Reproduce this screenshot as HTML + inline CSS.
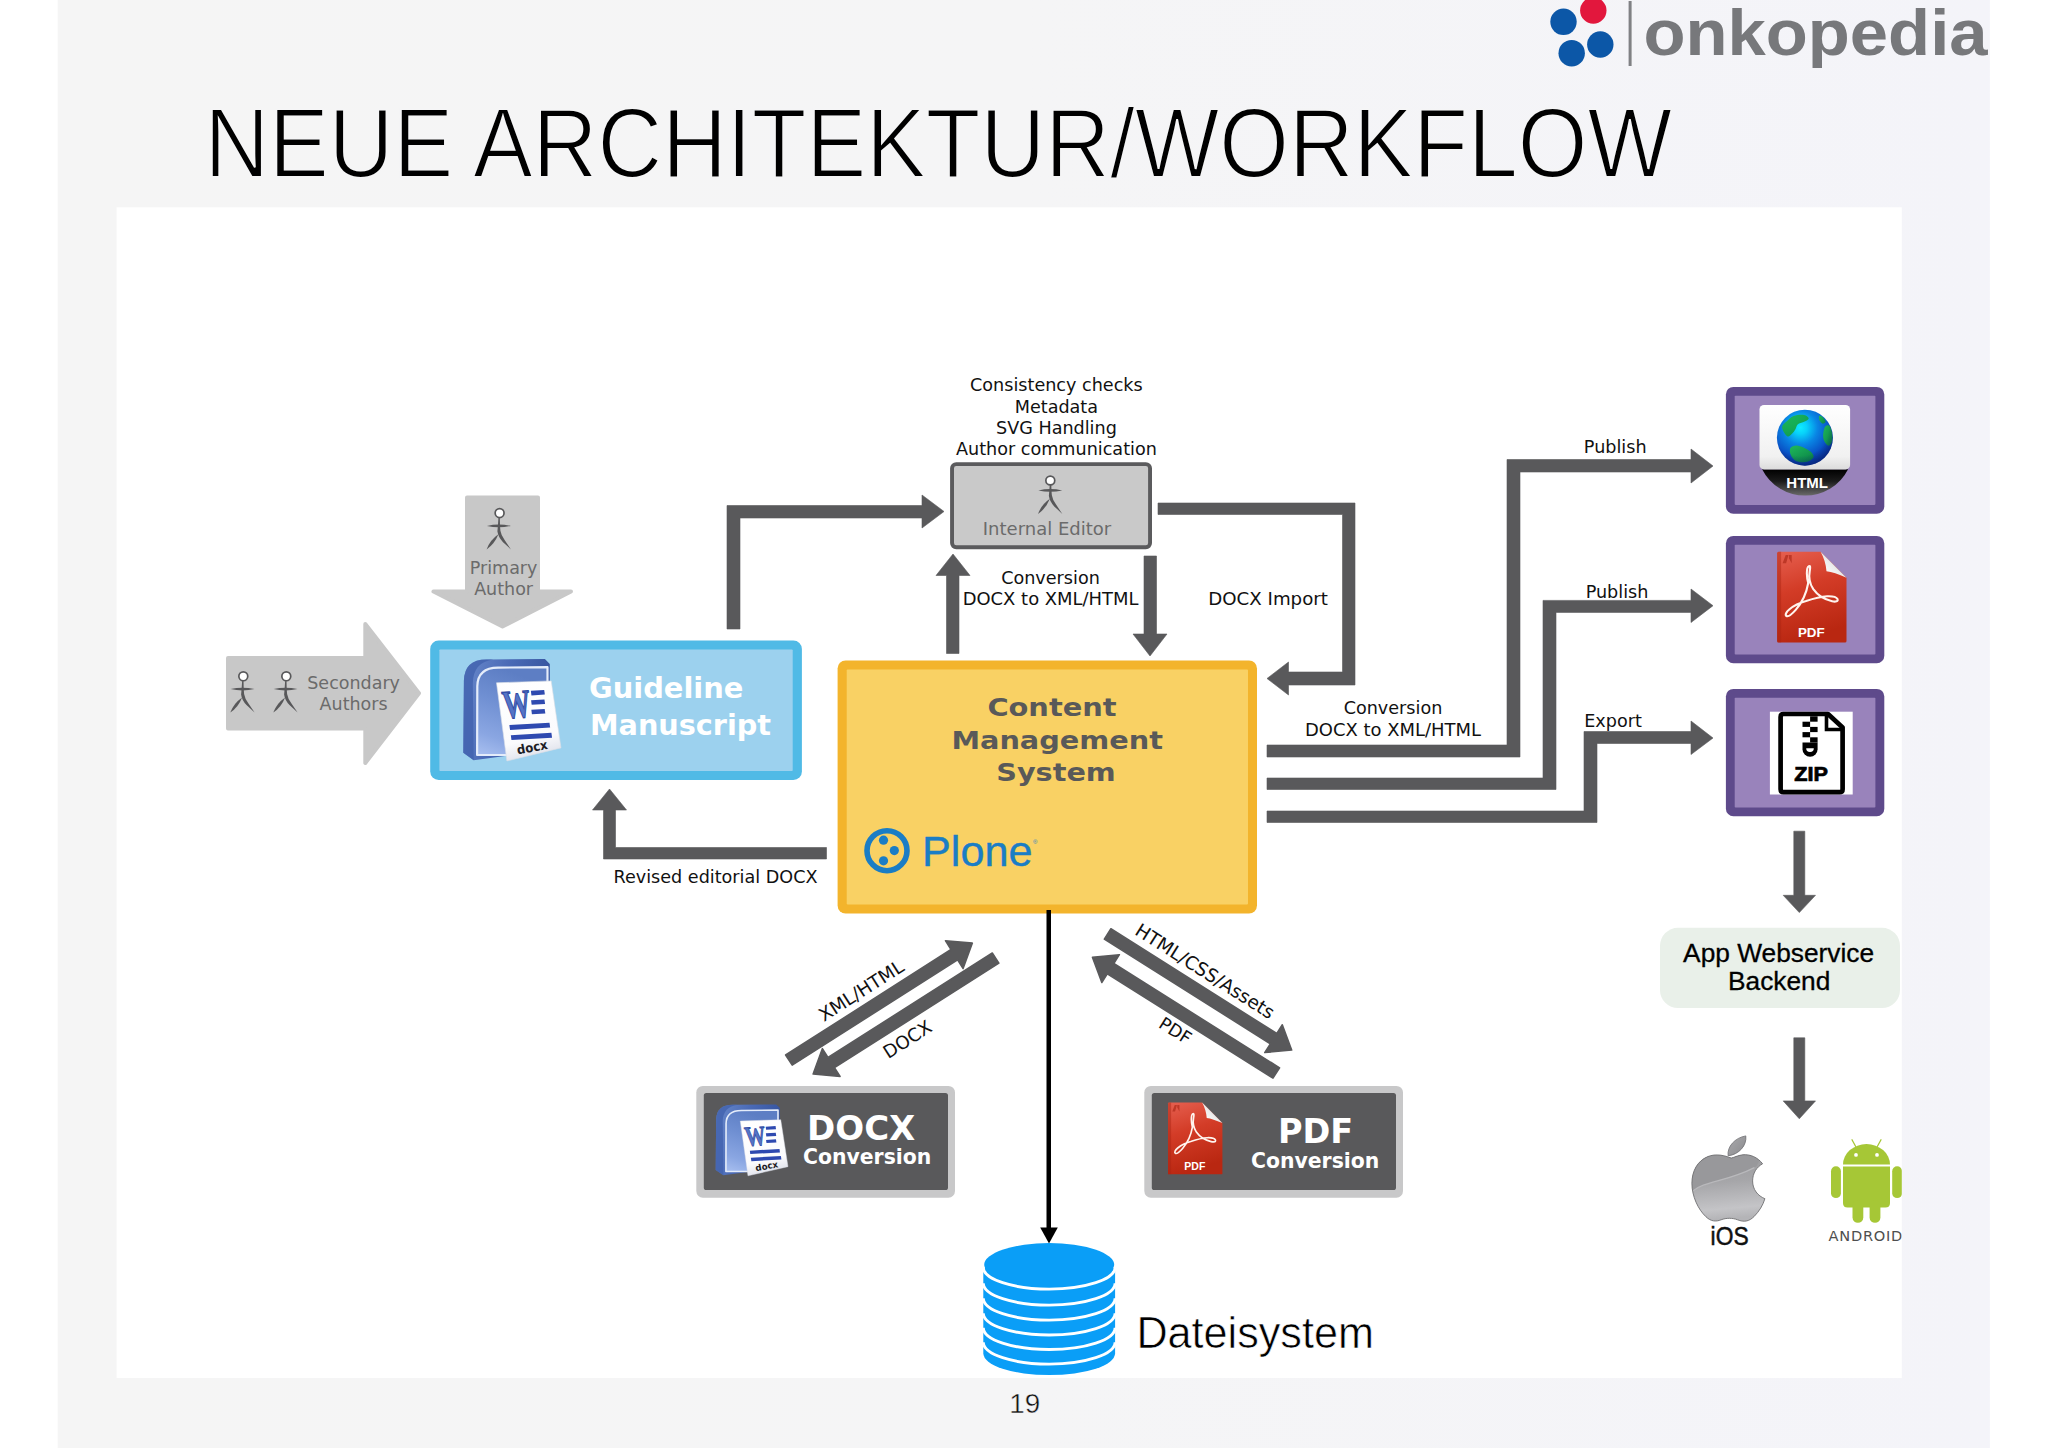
<!DOCTYPE html>
<html lang="de">
<head>
<meta charset="utf-8">
<title>Neue Architektur/Workflow</title>
<style>
html,body{margin:0;padding:0;background:#fff;}
body{width:2048px;height:1448px;overflow:hidden;position:relative;}
svg{position:absolute;left:0;top:0;display:block;}
.dv{font-family:"DejaVu Sans","Liberation Sans",sans-serif;}
.dvb{font-family:"DejaVu Sans","Liberation Sans",sans-serif;font-weight:bold;}
.ls{font-family:"Liberation Sans",sans-serif;}
</style>
</head>
<body>
<svg width="2048" height="1448" viewBox="0 0 2048 1448">
<defs>
<linearGradient id="gBlueBox" x1="0" y1="0" x2="0" y2="1"><stop offset="0" stop-color="#9ccfee"/><stop offset="1" stop-color="#9dd2ee"/></linearGradient>

<linearGradient id="gWordOuter" x1="0" y1="0" x2="1" y2="0.3"><stop offset="0" stop-color="#6a8acc"/><stop offset="0.5" stop-color="#4a6ab6"/><stop offset="1" stop-color="#35539e"/></linearGradient>
<linearGradient id="gWordFace" x1="0.3" y1="0" x2="0" y2="1"><stop offset="0" stop-color="#5d7ec4"/><stop offset="0.35" stop-color="#6f8fd2"/><stop offset="0.75" stop-color="#8aa6e2"/><stop offset="1" stop-color="#a9c0f0"/></linearGradient>
<linearGradient id="gPaper" x1="0" y1="0" x2="0.2" y2="1"><stop offset="0" stop-color="#ffffff"/><stop offset="0.8" stop-color="#fbfbfd"/><stop offset="1" stop-color="#e4e6ee"/></linearGradient>
<linearGradient id="gPdf" x1="0" y1="0" x2="0.25" y2="1"><stop offset="0" stop-color="#e66050"/><stop offset="0.45" stop-color="#d33c27"/><stop offset="1" stop-color="#b92711"/></linearGradient>
<linearGradient id="gFold" x1="0.1" y1="0.9" x2="0.7" y2="0.3"><stop offset="0" stop-color="#ffffff"/><stop offset="0.6" stop-color="#ececec"/><stop offset="1" stop-color="#b9b9bd"/></linearGradient>

<g id="wordicon">
<path d="M0 93.8 L0.6 21.5 Q1.2 0.4 23 0.4 L81.6 0 L86.5 4.9 L86.5 87.9 L43.6 96.7 L10.4 101.2 Z" fill="url(#gWordOuter)"/>
<path d="M0 93.8 L0.6 21.5 Q1.2 0.4 23 0.4 L30 0.4 Q10 3 9.5 24 L10.4 101.2 Z" fill="#4162ae" opacity="0.8"/>
<path d="M13.8 96 L14 27.3 Q14.4 8.6 34.8 8.6 L84.2 8.2 L84.2 87.9 L43.6 96 Z" fill="url(#gWordFace)" stroke="#e4ecfa" stroke-width="2.2" stroke-linejoin="round"/>
<path d="M33.2 23.8 L87.9 21.9 L97.7 88.9 L43.6 102 Z" fill="url(#gPaper)" stroke="#d9dde6" stroke-width="0.6"/>
<g transform="matrix(0.99 -0.06 0.13 0.99 0 0)">
<text x="33.5" y="62" font-family="'Liberation Serif',serif" font-weight="bold" font-size="40" fill="#5574c6" stroke="#2f4ba4" stroke-width="1.3" textLength="28" lengthAdjust="spacingAndGlyphs">W</text>
<rect x="63.5" y="36" width="13.5" height="4.6" fill="#2e49b0"/>
<rect x="62.5" y="45.5" width="13.5" height="4.6" fill="#2e49b0"/>
<rect x="61.5" y="55" width="13.5" height="4.6" fill="#2e49b0"/>
<rect x="37.5" y="69" width="40.5" height="5" fill="#2e49b0"/>
<rect x="37.6" y="79.2" width="41" height="5" fill="#2e49b0"/>
</g>
<text transform="translate(54.5 95.6) rotate(-11)" font-family="'DejaVu Sans','Liberation Sans',sans-serif" font-weight="bold" font-size="12.6" fill="#1c1c24" textLength="31" lengthAdjust="spacingAndGlyphs">docx</text>
</g>

<g id="pdficon">
<path d="M1.5 0 H43.5 L69.4 26.1 V89.3 Q69.4 90.8 67.9 90.8 H1.5 Q0 90.8 0 89.3 V1.5 Q0 0 1.5 0 Z" fill="url(#gPdf)"/>
<path d="M0 1.5 Q0 0 1.5 0 H4 V90.8 H1.5 Q0 90.8 0 89.3 Z" fill="#a82412" opacity="0.45"/>
<path d="M43.5 0 L69.4 26.1 Q57 20.5 49.4 19.6 Q48.6 9 43.5 0 Z" fill="url(#gFold)"/>
<path d="M5.5 11.6 L8.6 3.4 H11.4 L9 11.6 Z M11.8 3.4 H14.6 V11.6 L11.8 6.5 Z" fill="#b4301f" opacity="0.8"/>
<path d="M31.8 14.4 C28.6 16.2 29.8 26.5 31.1 31.3 C29.2 42.5 24.2 51.8 18.6 58.2 C15.4 61.8 11.2 65.4 9.4 64.3 C7.6 63.2 9.2 60.2 12.4 57.6 C17 53.8 23.4 51 29 49.4 C36.5 46.8 44 44.9 50 44.6 C54.5 44.4 59.2 45.2 60.4 47.4 C61.4 49.6 58.6 50.4 55 49.6 C47.5 47.8 40.2 43.2 36.2 37.5 C32.6 32 31.6 25 32.6 19.5 C33.2 16.2 33.4 13.6 31.8 14.4 Z" fill="none" stroke="#fff4ee" stroke-width="2.1" stroke-linejoin="round"/>
<text x="34.2" y="85.6" text-anchor="middle" font-family="'Liberation Sans',sans-serif" font-weight="bold" font-size="13.4" fill="#fff">PDF</text>
</g>

<linearGradient id="gDome" x1="0" y1="0" x2="0" y2="1"><stop offset="0" stop-color="#000"/><stop offset="0.45" stop-color="#1a1a1a"/><stop offset="1" stop-color="#6a6a6a"/></linearGradient>
<linearGradient id="gHtmlCard" x1="0" y1="0" x2="0" y2="1"><stop offset="0" stop-color="#ffffff"/><stop offset="0.8" stop-color="#f1f1f1"/><stop offset="1" stop-color="#dcdcdc"/></linearGradient>
<radialGradient id="gGlobe" cx="0.42" cy="0.32" r="0.72"><stop offset="0" stop-color="#10ecff"/><stop offset="0.16" stop-color="#08d2fa"/><stop offset="0.42" stop-color="#0a86e4"/><stop offset="0.72" stop-color="#0a52c6"/><stop offset="1" stop-color="#0a2c92"/></radialGradient>
<radialGradient id="gGlobeShade" cx="0.42" cy="0.32" r="0.72"><stop offset="0.7" stop-color="#06206e" stop-opacity="0"/><stop offset="1" stop-color="#041a60" stop-opacity="0.55"/></radialGradient>
<linearGradient id="gLand" x1="0" y1="0" x2="1" y2="1"><stop offset="0" stop-color="#22c24a"/><stop offset="1" stop-color="#0b8a34"/></linearGradient>
<clipPath id="clipGlobe"><circle cx="1804.9" cy="437.7" r="27.6"/></clipPath>
<clipPath id="clipPanel"><rect x="116.6" y="207.3" width="1785.2" height="1170.7"/></clipPath>
<linearGradient id="gApple" x1="0" y1="0" x2="0.1" y2="1"><stop offset="0" stop-color="#9a9a9d"/><stop offset="0.45" stop-color="#a6a6a9"/><stop offset="0.85" stop-color="#c4c4c7"/><stop offset="1" stop-color="#b4b4b7"/></linearGradient>
<linearGradient id="gLeaf" x1="0" y1="0" x2="1" y2="1"><stop offset="0" stop-color="#a9a9ac"/><stop offset="1" stop-color="#8b8b8e"/></linearGradient>
<linearGradient id="gBg" x1="0" y1="0" x2="1" y2="0"><stop offset="0" stop-color="#f5f5f5"/><stop offset="0.5" stop-color="#f5f5f6"/><stop offset="1" stop-color="#f4f4f9"/></linearGradient>
<g id="stickbody">
<path d="M-12.7 12.8 Q-0.8 10.1 11.2 12.8 Q-0.8 15.5 -12.7 12.8 Z"/>
<path d="M-0.9 1 L0.15 1 L0.4 12.8 L0.8 17.6 Q1.5 22 5 27 L11.3 36.3 L3.2 28.8 Q-1.4 24 -2.2 18.2 L-1.7 12.8 Z"/>
<path d="M-1.2 21.2 Q-4.9 30.8 -13 36.3 Q-9.7 27.1 -1.2 21.2 Z"/>
</g>
<g id="stickhead"><circle cx="0" cy="0" r="4.45" fill="#fff" stroke="#58585a" stroke-width="1.7"/></g>
<g id="stick"><use href="#stickbody"/><use href="#stickhead"/></g>
<g id="stick2"><use href="#stickbody" transform="translate(0.75 -2.9)"/><use href="#stickhead"/></g>
</defs>
<!-- BACKGROUND -->
<rect x="0" y="0" width="2048" height="1448" fill="#ffffff"/>
<rect x="57.7" y="0" width="1932.2" height="1448" fill="url(#gBg)"/>
<rect x="116.6" y="207.3" width="1785.2" height="1170.7" fill="#ffffff"/>

<!-- TITLE -->
<g id="title">
<text x="204.4" y="176.7" class="ls" font-size="99" fill="#000" textLength="1467.6" lengthAdjust="spacingAndGlyphs" stroke="#f5f5f6" stroke-width="2">NEUE ARCHITEKTUR/WORKFLOW</text>
</g>

<!-- LOGO -->
<g id="logo">
<circle cx="1593.3" cy="10.5" r="13.2" fill="#e2173d"/>
<circle cx="1563.5" cy="21.8" r="13.2" fill="#0c57a7"/>
<circle cx="1600.3" cy="44.5" r="13.2" fill="#0c57a7"/>
<circle cx="1571.7" cy="53.2" r="13.2" fill="#0c57a7"/>
<rect x="1628.6" y="1" width="3" height="65" fill="#808184"/>
<text x="1643.5" y="55" class="ls" font-weight="bold" font-size="64" fill="#77787b" textLength="344" lengthAdjust="spacingAndGlyphs">onkopedia</text>
</g>

<!-- PAGE NUMBER -->
<text x="1024.7" y="1412.5" class="ls" font-size="27.8" fill="#111" text-anchor="middle" stroke="#f5f5f6" stroke-width="0.45">19</text>

<!-- ARROWS DARK -->
<g id="arrows" fill="#59595b" stroke="#59595b" stroke-width="0.6" stroke-linejoin="round">
<!-- manuscript -> internal editor -->
<path d="M727 629 V505.5 H922 V495 L944 511.5 L922 528 V518 H740 V629 Z"/>
<!-- internal editor -> cms (docx import) -->
<path d="M1158 503 H1355 V685 H1288.5 V695 L1267 678.5 L1288.5 662 V672 H1342.5 V514.5 H1158 Z"/>
<!-- up arrow cms -> editor -->
<path d="M946.5 653.5 V575.5 H936 L953 554 L970 575.5 H959 V653.5 Z"/>
<!-- down arrow editor -> cms -->
<path d="M1144 556 H1156.5 V634 H1167 L1150 656 L1133 634 H1144 Z"/>
<!-- publish html -->
<path d="M1267 745 H1507 V459.5 H1691 V449 L1713 466 L1691 483 V472 H1520 V757 H1267 Z"/>
<!-- publish pdf -->
<path d="M1267 778 H1543 V600.4 H1691 V589 L1713 605.7 L1691 622.5 V612.4 H1556 V789.5 H1267 Z"/>
<!-- export zip -->
<path d="M1267 811 H1584 V731.5 H1691 V721 L1713 738 L1691 754.5 V743.5 H1597 V822.5 H1267 Z"/>
<!-- revised editorial docx -->
<path d="M826.5 847.5 H615.5 V810 H626.5 L609.5 789 L592.5 810 H603.5 V859 H826.5 Z"/>
<!-- right down arrows -->
<path d="M1793.8 831.2 H1804.8 V895.3 H1815.5 L1799.3 912.6 L1783.2 895.3 H1793.8 Z"/>
<path d="M1793.8 1037.8 H1804.8 V1100.9 H1815.5 L1799.3 1118.8 L1783.2 1100.9 H1793.8 Z"/>
</g>

<!-- BOXES -->
<g id="boxes">
<!-- guideline manuscript -->
<rect x="430.2" y="640.6" width="371.7" height="139.4" rx="8.5" fill="#50bae6"/>
<rect x="439.4" y="649.5" width="353.3" height="121.5" rx="0.8" fill="#9cd1ee"/>
<!-- CMS -->
<rect x="837.6" y="660.5" width="419.4" height="253" rx="8" fill="#f3b42c"/>
<rect x="846.7" y="669.6" width="401.3" height="234.8" rx="0.8" fill="#f9d164"/>
<!-- internal editor -->
<rect x="952.05" y="464.15" width="198" height="83.1" rx="4.2" fill="#c9c9c9" stroke="#5b5b5d" stroke-width="3.9"/>
<!-- purple -->
<rect x="1725.9" y="386.9" width="158.4" height="126.9" rx="7.5" fill="#5e4a8b"/>
<rect x="1734.7" y="395.7" width="140.7" height="109.2" rx="0.8" fill="#9983bb"/>
<rect x="1725.9" y="535.9" width="158.4" height="127.4" rx="7.5" fill="#5e4a8b"/>
<rect x="1734.7" y="544.7" width="140.7" height="109.8" rx="0.8" fill="#9983bb"/>
<rect x="1725.9" y="688.9" width="158.4" height="127.4" rx="7.5" fill="#5e4a8b"/>
<rect x="1734.7" y="697.7" width="140.7" height="109.8" rx="0.8" fill="#9983bb"/>
<!-- app webservice -->
<rect x="1660" y="927.8" width="240" height="80.3" rx="18" fill="#e9f0e9"/>
<!-- docx / pdf conversion -->
<rect x="696.3" y="1085.9" width="258.7" height="111.8" rx="6.6" fill="#c8c8c9"/>
<rect x="703.8" y="1092.9" width="244.2" height="97.2" rx="2.6" fill="#59595b"/>
<rect x="1144.3" y="1085.9" width="258.7" height="111.8" rx="6.6" fill="#c8c8c9"/>
<rect x="1151.8" y="1092.9" width="244.2" height="97.2" rx="2.6" fill="#59595b"/>
</g>

<!-- THIN ARROW -->
<rect x="1046.5" y="910" width="4.5" height="320" fill="#000"/>
<path d="M1040.2 1227.6 H1057.8 L1049 1243.5 Z" fill="#000"/>


<!-- GREY ARROW SHAPES -->
<g id="greyarrows" fill="#c8c8c8" stroke="#c8c8c8" stroke-width="4" stroke-linejoin="round">
<path d="M228 658 H365.3 V624 L419 693.3 L365.3 763 V728.5 H228 Z"/>
<path d="M467 497.5 H538 V591.5 H571 L502.5 626.5 L433.5 591.5 H467 Z"/>
</g>

<!-- STICK FIGURES -->
<g id="figs" fill="#58585a">
<use href="#stick" transform="translate(243.3 676.3)"/>
<use href="#stick" transform="translate(286.3 676.3)"/>
<use href="#stick" transform="translate(499.6 513.1)"/>
<use href="#stick2" transform="translate(1050.3 480.5)"/>
</g>

<!-- LABELS -->
<g id="labels" class="dv" font-size="17.6" fill="#111" text-anchor="middle">
<text x="1056.4" y="391">Consistency checks</text>
<text x="1056.4" y="412.5">Metadata</text>
<text x="1056.4" y="434">SVG Handling</text>
<text x="1056.4" y="455.3">Author communication</text>
<text x="1050.5" y="584">Conversion</text>
<text x="1050.6" y="605.4" font-size="17.95">DOCX to XML/HTML</text>
<text x="1268.1" y="605.4" font-size="18.2">DOCX Import</text>
<text x="1393" y="714.4">Conversion</text>
<text x="1393" y="735.5" font-size="17.95">DOCX to XML/HTML</text>
<text x="1615.2" y="452.5">Publish</text>
<text x="1617" y="597.5">Publish</text>
<text x="1613" y="726.8">Export</text>
<text x="715.5" y="883">Revised editorial DOCX</text>
<text transform="translate(864.7,996) rotate(-32.5)" x="0" y="0" font-size="18.5">XML/HTML</text>
<text transform="translate(910.7,1044.8) rotate(-32.5)" x="0" y="0" font-size="18.2">DOCX</text>
<text transform="translate(1201.5,976.7) rotate(32.3)" x="0" y="0" font-size="18.5">HTML/CSS/Assets</text>
<text transform="translate(1172,1036) rotate(32.3)" x="0" y="0">PDF</text>
</g>
<g id="greylabels" class="dv" font-size="17.5" fill="#6b6b6b" text-anchor="middle">
<text x="353.6" y="689.3">Secondary</text>
<text x="353.6" y="710.4">Authors</text>
<text x="503.6" y="573.7">Primary</text>
<text x="503.6" y="595">Author</text>
<text x="1047" y="534.5" font-size="18">Internal Editor</text>
</g>

<!-- BOLD LABELS -->
<g id="bold" class="dvb" fill="#fff">
<text x="589" y="698.4" font-size="28.9">Guideline</text>
<text x="590" y="734.5" font-size="28.7">Manuscript</text>
<text x="807" y="1139.6" font-size="34">DOCX</text>
<text x="803" y="1164.4" font-size="20.4">Conversion</text>
<text x="1278" y="1143" font-size="33.5">PDF</text>
<text x="1251" y="1167.7" font-size="20.4">Conversion</text>
</g>
<g id="cms" class="dvb" fill="#595959" font-size="25.2" text-anchor="middle">
<text x="1052" y="716.1" textLength="129.2" lengthAdjust="spacingAndGlyphs">Content</text>
<text x="1057.2" y="748.5" textLength="211.6" lengthAdjust="spacingAndGlyphs">Management</text>
<text x="1056" y="780.7" textLength="119.5" lengthAdjust="spacingAndGlyphs">System</text>
</g>

<!-- APP WEBSERVICE TEXT -->
<g class="ls" font-size="26.3" fill="#000" text-anchor="middle" stroke="#000" stroke-width="0.3">
<text x="1778.6" y="962.3">App Webservice</text>
<text x="1779.2" y="989.6">Backend</text>
</g>

<!-- DATEISYSTEM -->
<text x="1136.4" y="1347.8" class="ls" font-size="43.6" fill="#000" textLength="237.5" lengthAdjust="spacingAndGlyphs" stroke="#fff" stroke-width="0.6">Dateisystem</text>

<!-- DATABASE -->
<g id="db">
<path d="M983.3 1268 V1353.3 A65.9 21.8 0 0 0 1115.1 1353.3 V1268 Z" fill="#0a9ef7"/>
<ellipse cx="1049.2" cy="1264.9" rx="65" ry="21.8" fill="#0a9ef7"/>
<g fill="none" stroke="#fff" stroke-width="2.9">
<path d="M983.3 1267.3 A65.9 21.8 0 0 0 1115.1 1267.3"/>
<path d="M983.3 1283.3 A65.9 21.8 0 0 0 1115.1 1283.3"/>
<path d="M983.3 1298.3 A65.9 21.8 0 0 0 1115.1 1298.3"/>
<path d="M983.3 1313.2 A65.9 21.8 0 0 0 1115.1 1313.2"/>
<path d="M983.3 1327.7 A65.9 21.8 0 0 0 1115.1 1327.7"/>
<path d="M983.3 1342.3 A65.9 21.8 0 0 0 1115.1 1342.3"/>
</g>
</g>

<!-- PLONE -->
<g id="plone" fill="#1a7dc5">
<circle cx="887" cy="850.7" r="20" fill="none" stroke="#1a7dc5" stroke-width="5.6"/>
<circle cx="883.5" cy="840.2" r="4.6"/>
<circle cx="894.3" cy="850.6" r="4.6"/>
<circle cx="883.5" cy="860.8" r="4.6"/>
<text x="922" y="865.9" class="ls" font-size="43" textLength="110.5" lengthAdjust="spacingAndGlyphs" stroke="#1a7dc5" stroke-width="0.4">Plone</text>
<text x="1033" y="844" class="ls" font-size="6">®</text>
</g>

<g id="diag" fill="#59595b" stroke="#59595b" stroke-width="1.5" stroke-linejoin="round">
<path d="M792.2 1065.2 L957.6 959.8 L963.1 968.6 L972.4 943.1 L945.4 940.7 L951.0 949.5 L785.6 1055.0 Z"/>
<path d="M992.3 953.0 L828.0 1057.4 L822.4 1048.6 L813.1 1074.1 L840.1 1076.5 L834.5 1067.7 L998.9 963.2 Z"/>
<path d="M1104.3 939.1 L1270.3 1043.8 L1264.7 1052.6 L1291.7 1050.1 L1282.3 1024.7 L1276.8 1033.5 L1110.9 928.7 Z"/>
<path d="M1279.6 1067.8 L1113.8 963.5 L1119.4 954.7 L1092.4 957.2 L1101.8 982.6 L1107.3 973.8 L1273.0 1078.2 Z"/>
</g>

<!-- ICONS: WORD + PDF -->
<use href="#wordicon" transform="translate(463.3 659)"/>
<use href="#wordicon" transform="translate(715.7 1104.4) scale(0.74 0.70)"/>
<use href="#pdficon" transform="translate(1777.1 551.7)"/>
<use href="#pdficon" transform="translate(1168 1102.4) scale(0.784 0.792)"/>

<!-- HTML ICON -->
<g id="htmlicon">
<path d="M1762.1 469.2 A48.2 48.2 0 0 0 1848.1 469.2 Z" fill="url(#gDome)"/>
<rect x="1759.5" y="405" width="90.6" height="64.4" rx="4.5" fill="url(#gHtmlCard)"/>
<circle cx="1804.9" cy="437.7" r="28" fill="url(#gGlobe)"/>
<g clip-path="url(#clipGlobe)" fill="url(#gLand)" opacity="0.88">
<path d="M1786.5 421.6 C1788.4 419.8 1790.8 417.0 1793.7 415.9 C1796.6 414.8 1801.6 414.4 1804.1 414.9 C1806.6 415.3 1808.8 417.3 1808.7 418.5 C1808.6 419.7 1805.4 421.2 1803.5 422.1 C1801.7 423.1 1799.2 423.0 1797.9 424.2 C1796.5 425.4 1796.2 427.8 1795.3 429.4 C1794.3 430.9 1793.4 432.3 1792.2 433.5 C1790.9 434.7 1789.3 436.7 1788.0 436.6 C1786.7 436.5 1785.4 434.6 1784.4 433.0 C1783.4 431.4 1781.8 428.7 1782.1 426.8 C1782.5 424.9 1784.5 423.4 1786.5 421.6 Z"/>
<path d="M1790.4 448.0 C1791.3 446.5 1794.1 445.5 1796.3 445.4 C1798.5 445.3 1801.1 446.4 1803.5 447.5 C1806.0 448.6 1809.1 450.3 1810.8 451.8 C1812.5 453.4 1813.9 455.5 1813.6 457.0 C1813.2 458.6 1810.8 460.3 1808.7 461.2 C1806.6 462.0 1803.3 462.4 1801.0 462.2 C1798.6 462.0 1796.3 461.2 1794.5 459.9 C1792.8 458.6 1791.3 456.5 1790.6 454.5 C1789.9 452.6 1789.4 449.5 1790.4 448.0 Z"/>
<path d="M1825.0 426.8 C1826.0 425.0 1828.0 424.8 1829.1 425.5 C1830.3 426.2 1831.4 428.6 1832.0 430.9 C1832.6 433.2 1833.1 436.8 1832.6 439.2 C1832.2 441.7 1830.6 445.1 1829.3 445.6 C1828.1 446.2 1826.0 444.1 1825.0 442.5 C1823.9 440.9 1823.1 438.7 1823.1 436.1 C1823.1 433.5 1824.0 428.5 1825.0 426.8 Z"/>
<path d="M1819.1 415.9 C1819.6 415.3 1821.6 416.0 1822.7 416.9 C1823.8 417.9 1825.6 420.5 1825.6 421.6 C1825.6 422.7 1823.7 423.8 1822.7 423.7 C1821.7 423.5 1820.2 421.9 1819.6 420.6 C1819.0 419.3 1818.6 416.5 1819.1 415.9 Z"/>
</g>
<circle cx="1804.9" cy="437.7" r="28" fill="url(#gGlobeShade)"/>
<text x="1807.2" y="488.2" text-anchor="middle" font-family="'Liberation Sans',sans-serif" font-weight="bold" font-size="15" fill="#fff">HTML</text>
</g>

<!-- ZIP ICON -->
<g id="zipicon">
<rect x="1769.9" y="711.7" width="82.8" height="82.8" fill="#fff"/>
<path d="M1783.5 714 H1828 L1842.6 727.5 V789.2 Q1842.6 792.1 1839.7 792.1 H1783.5 Q1780.6 792.1 1780.6 789.2 V716.9 Q1780.6 714 1783.5 714 Z" fill="#fff" stroke="#000" stroke-width="4.7" stroke-linejoin="round"/>
<path d="M1826.5 716 V729.5 H1841" fill="none" stroke="#000" stroke-width="3.6"/>
<g fill="#000">
<rect x="1810.1" y="716.3" width="7.5" height="5.4"/>
<rect x="1802.5" y="721.7" width="7.6" height="5.2"/>
<rect x="1810.1" y="726.9" width="7.5" height="5.2"/>
<rect x="1802.5" y="732.1" width="7.6" height="5.2"/>
<rect x="1810.1" y="737.3" width="7.5" height="5.2"/>
<path d="M1802.5 742.5 H1817.6 V749.2 A7.55 7.55 0 0 1 1802.5 749.2 Z"/>
</g>
<path d="M1806.2 748.2 H1813.8 A3.8 3.8 0 0 1 1806.2 748.2 Z" fill="#fff"/>
<text x="1811.1" y="781" text-anchor="middle" font-family="'Liberation Sans',sans-serif" font-weight="bold" font-size="19.6" fill="#000" stroke="#000" stroke-width="0.7" textLength="33.7" lengthAdjust="spacingAndGlyphs">ZIP</text>
</g>

<!-- APPLE / iOS -->
<g id="apple">
<clipPath id="clipApple"><path d="M 1731.2 1158.1 C 1724.9 1155.5 1716.0 1153.3 1707.8 1156.6 C 1697.6 1160.9 1691.9 1170.8 1691.9 1183.5 C 1691.9 1196.2 1698.2 1209.5 1705.9 1216.7 C 1710.9 1221.6 1716.0 1221.8 1721.1 1219.8 C 1726.2 1217.8 1732.5 1217.8 1737.6 1219.8 C 1743.9 1222.3 1749.0 1221.6 1754.1 1216.5 C 1759.2 1211.4 1763.0 1205.1 1764.9 1198.7 C 1757.9 1195.9 1752.6 1189.6 1752.6 1180.9 C 1752.6 1173.3 1756.6 1167.0 1762.6 1163.8 C 1757.9 1157.5 1750.3 1154.0 1742.7 1154.8 C 1737.6 1155.5 1733.8 1157.5 1731.2 1158.1 Z"/></clipPath>
<path d="M 1731.2 1158.1 C 1724.9 1155.5 1716.0 1153.3 1707.8 1156.6 C 1697.6 1160.9 1691.9 1170.8 1691.9 1183.5 C 1691.9 1196.2 1698.2 1209.5 1705.9 1216.7 C 1710.9 1221.6 1716.0 1221.8 1721.1 1219.8 C 1726.2 1217.8 1732.5 1217.8 1737.6 1219.8 C 1743.9 1222.3 1749.0 1221.6 1754.1 1216.5 C 1759.2 1211.4 1763.0 1205.1 1764.9 1198.7 C 1757.9 1195.9 1752.6 1189.6 1752.6 1180.9 C 1752.6 1173.3 1756.6 1167.0 1762.6 1163.8 C 1757.9 1157.5 1750.3 1154.0 1742.7 1154.8 C 1737.6 1155.5 1733.8 1157.5 1731.2 1158.1 Z" fill="url(#gApple)"/>
<path d="M 1688.1 1194.3 C 1703.3 1180.9 1726.2 1182.2 1756.6 1166.3 L 1764.3 1150.5 L 1688.1 1150.5 Z" fill="#98989b" clip-path="url(#clipApple)"/>
<path d="M 1692.5 1191.1 C 1704.6 1180.9 1726.2 1182.0 1754.4 1167.6" fill="none" stroke="#b9b9bc" stroke-width="1.2" clip-path="url(#clipApple)"/>
<path d="M 1731.2 1158.1 C 1724.9 1155.5 1716.0 1153.3 1707.8 1156.6 C 1697.6 1160.9 1691.9 1170.8 1691.9 1183.5 C 1691.9 1196.2 1698.2 1209.5 1705.9 1216.7 C 1710.9 1221.6 1716.0 1221.8 1721.1 1219.8 C 1726.2 1217.8 1732.5 1217.8 1737.6 1219.8 C 1743.9 1222.3 1749.0 1221.6 1754.1 1216.5 C 1759.2 1211.4 1763.0 1205.1 1764.9 1198.7 C 1757.9 1195.9 1752.6 1189.6 1752.6 1180.9 C 1752.6 1173.3 1756.6 1167.0 1762.6 1163.8 C 1757.9 1157.5 1750.3 1154.0 1742.7 1154.8 C 1737.6 1155.5 1733.8 1157.5 1731.2 1158.1 Z" fill="none" stroke="#6f6f72" stroke-width="0.9"/>
<path d="M 1728.1 1155.8 C 1726.9 1146.7 1734.8 1137.8 1745.8 1135.9 C 1747.0 1145.4 1739.1 1154.5 1728.1 1155.8 Z" fill="url(#gLeaf)" stroke="#6f6f72" stroke-width="0.8"/>
<text x="1729.6" y="1245" text-anchor="middle" font-family="'Liberation Sans',sans-serif" font-size="25.5" fill="#111" stroke="#111" stroke-width="0.5" textLength="38" lengthAdjust="spacingAndGlyphs">iOS</text>
</g>

<!-- ANDROID (clipped by panel edge) -->
<g id="android" clip-path="url(#clipPanel)">
<g fill="#a6c736">
<path d="M1843 1164.6 A23.5 20.5 0 0 1 1890 1164.6 Z"/>
<path d="M1843 1166.6 H1890 V1203 Q1890 1207.6 1885.4 1207.6 H1847.6 Q1843 1207.6 1843 1203 Z"/>
<rect x="1831" y="1166.3" width="9.9" height="31.8" rx="4.95"/>
<rect x="1892.2" y="1166.3" width="9.9" height="31.8" rx="4.95"/>
<rect x="1852.5" y="1200" width="10.8" height="22.8" rx="5.4"/>
<rect x="1869.6" y="1200" width="10.8" height="22.8" rx="5.4"/>
</g>
<path d="M1852 1139.8 L1856.5 1148 M1881 1139.8 L1876.5 1148" stroke="#a6c736" stroke-width="1.3" stroke-linecap="round"/>
<circle cx="1856" cy="1154.9" r="1.9" fill="#fff"/>
<circle cx="1877" cy="1154.9" r="1.9" fill="#fff"/>
<text x="1828.6" y="1240.8" font-family="'DejaVu Sans','Liberation Sans',sans-serif" font-size="14.6" fill="#4e4e4e" textLength="73.6" lengthAdjust="spacing">ANDROID</text>
</g>
<!--MORE4-->


</svg>
</body>
</html>
